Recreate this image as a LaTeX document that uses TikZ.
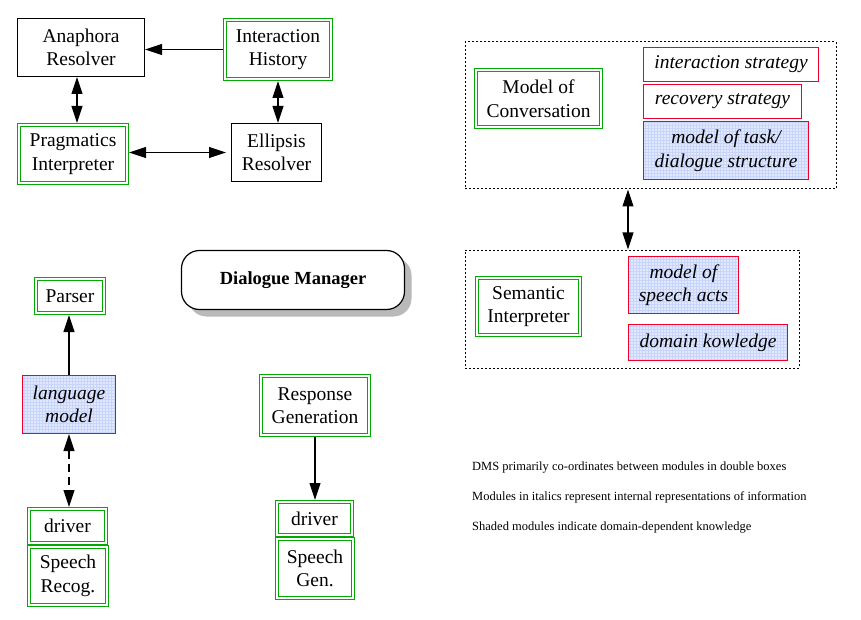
\documentclass[tikz,border=0pt]{standalone}
\usepackage{fontspec}
\setmainfont{Liberation Serif}
\usetikzlibrary{arrows.meta,shadows,calc}
\definecolor{dgreen}{RGB}{0,170,0}
\definecolor{dred}{RGB}{240,0,45}
\definecolor{shadeblue}{RGB}{226,233,255}
\definecolor{gridblue}{RGB}{200,213,250}
\tikzset{
  txt/.style={font=\fontsize{19.5}{23.5}\selectfont, align=center, inner sep=0pt, text=black},
  single/.style={txt, draw=black, line width=1pt},
  dbl/.style={txt, draw=dgreen, line width=1pt,
    path picture={\draw[dgreen, line width=1pt] ([shift={(3pt,3pt)}]path picture bounding box.south west) rectangle ([shift={(-3pt,-3pt)}]path picture bounding box.north east);}},
  redbox/.style={txt, draw=dred, line width=1pt, font=\fontsize{19.5}{23.5}\selectfont\itshape},
  shaded/.style={fill=shadeblue, path picture={\draw[gridblue, line width=0.25pt] (path picture bounding box.south west) grid[step=3pt] (path picture bounding box.north east);},
    postaction={draw=dred, line width=1.2pt}},
  dotbox/.style={draw=black, line width=1pt, dash pattern=on 2pt off 2pt, inner sep=0pt},
  tip/.style={line width=1.1pt, -{Triangle[length=17pt,width=11pt]}},
  dtip/.style={line width=1.1pt, {Triangle[length=17pt,width=11pt]}-{Triangle[length=17pt,width=11pt]}},
  legend/.style={font=\fontsize{12.5}{14}\selectfont, anchor=west, inner sep=0pt}
}
\begin{document}
\begin{tikzpicture}[x=1pt,y=-1pt]
\useasboundingbox (0,0) rectangle (861,620);
% top-left cluster
\node[single, minimum width=127pt, minimum height=58pt] (ana) at (81,47.5) {Anaphora\\Resolver};
\node[dbl, minimum width=109pt, minimum height=62pt] (ih) at (278,49.5) {Interaction\\History};
\node[dbl, minimum width=111pt, minimum height=61pt] (prag) at (73,154) {Pragmatics\\Interpreter};
\node[single, minimum width=90pt, minimum height=58pt] (ell) at (276.5,152.5) {Ellipsis\\Resolver};
\draw[tip] (ih.west) -- (ih.west -| ana.east);
\draw[dtip] ([xshift=-4pt]ana.south) -- ([xshift=-4pt]ana.south |- prag.north);
\draw[dtip] (ih.south) -- (ih.south |- ell.north);
\draw[dtip, shorten >=5pt] (prag.east |- ell.west) -- (ell.west);
% Dialogue manager
\node[draw=black, line width=1.2pt, rounded corners=18pt, fill=white, minimum width=223pt, minimum height=59pt,
  drop shadow={shadow xshift=7pt, shadow yshift=-7pt, fill=gray!55, opacity=1},
  font=\fontsize{18.5}{22}\selectfont\bfseries] (dm) at (293,280) {Dialogue Manager};
% left column
\node[dbl, minimum width=71pt, minimum height=37pt] (parser) at (70,296) {Parser};
\node[redbox, shaded, minimum width=93pt, minimum height=58pt] (lm) at (69,404.5) {language\\model};
\node[dbl, minimum width=80pt, minimum height=37pt] (drvl) at (67.5,526) {driver};
\node[dbl, minimum width=81pt, minimum height=61pt] (sr) at (68,576) {Speech\\Recog.};
\draw[tip] (lm.north) -- (lm.north |- parser.south);
\draw[dtip, dash pattern=on 8pt off 5pt] (lm.south) -- (lm.south |- drvl.north);
% middle column
\node[dbl, minimum width=111pt, minimum height=62pt] (rg) at (315,405.5) {Response\\Generation};
\node[dbl, minimum width=78pt, minimum height=36pt] (drvr) at (314.5,518.5) {driver};
\node[dbl, minimum width=79pt, minimum height=62pt] (sg) at (315,568.5) {Speech\\Gen.};
\draw[tip] (rg.south) -- (rg.south |- drvr.north);
% right top group
\node[dotbox, minimum width=371pt, minimum height=147pt] (topg) at (650.5,115.5) {};
\node[dbl, minimum width=128pt, minimum height=60pt] (moc) at (538.5,98.5) {Model of\\Conversation};
\node[redbox, minimum width=175pt, minimum height=34pt] (is) at (731,64.5) {interaction strategy};
\node[redbox, minimum width=158pt, minimum height=34pt] (rs) at (722.5,101.5) {recovery strategy};
\node[redbox, shaded, minimum width=165pt, minimum height=58pt] (mt) at (726,150.5) {model of task/\\dialogue structure};
% right bottom group
\node[dotbox, minimum width=334pt, minimum height=118pt] (botg) at (632,309) {};
\node[dbl, minimum width=106pt, minimum height=60pt] (si) at (528.5,306.5) {Semantic\\Interpreter};
\node[redbox, shaded, minimum width=110pt, minimum height=57pt] (sa) at (683.5,285) {model of\\speech acts};
\node[redbox, shaded, minimum width=159pt, minimum height=36pt] (dk) at (708,342.5) {domain kowledge};
\draw[dtip] (topg.south -| sa.west) -- (botg.north -| sa.west);
% legend
\node[legend] (l1) at (472,468) {DMS primarily co-ordinates between modules in double boxes};
\node[legend] (l2) at (472,497) {Modules in italics represent internal representations of information};
\node[legend] (l3) at (472,528) {Shaded modules indicate domain-dependent knowledge};
\end{tikzpicture}
\end{document}
